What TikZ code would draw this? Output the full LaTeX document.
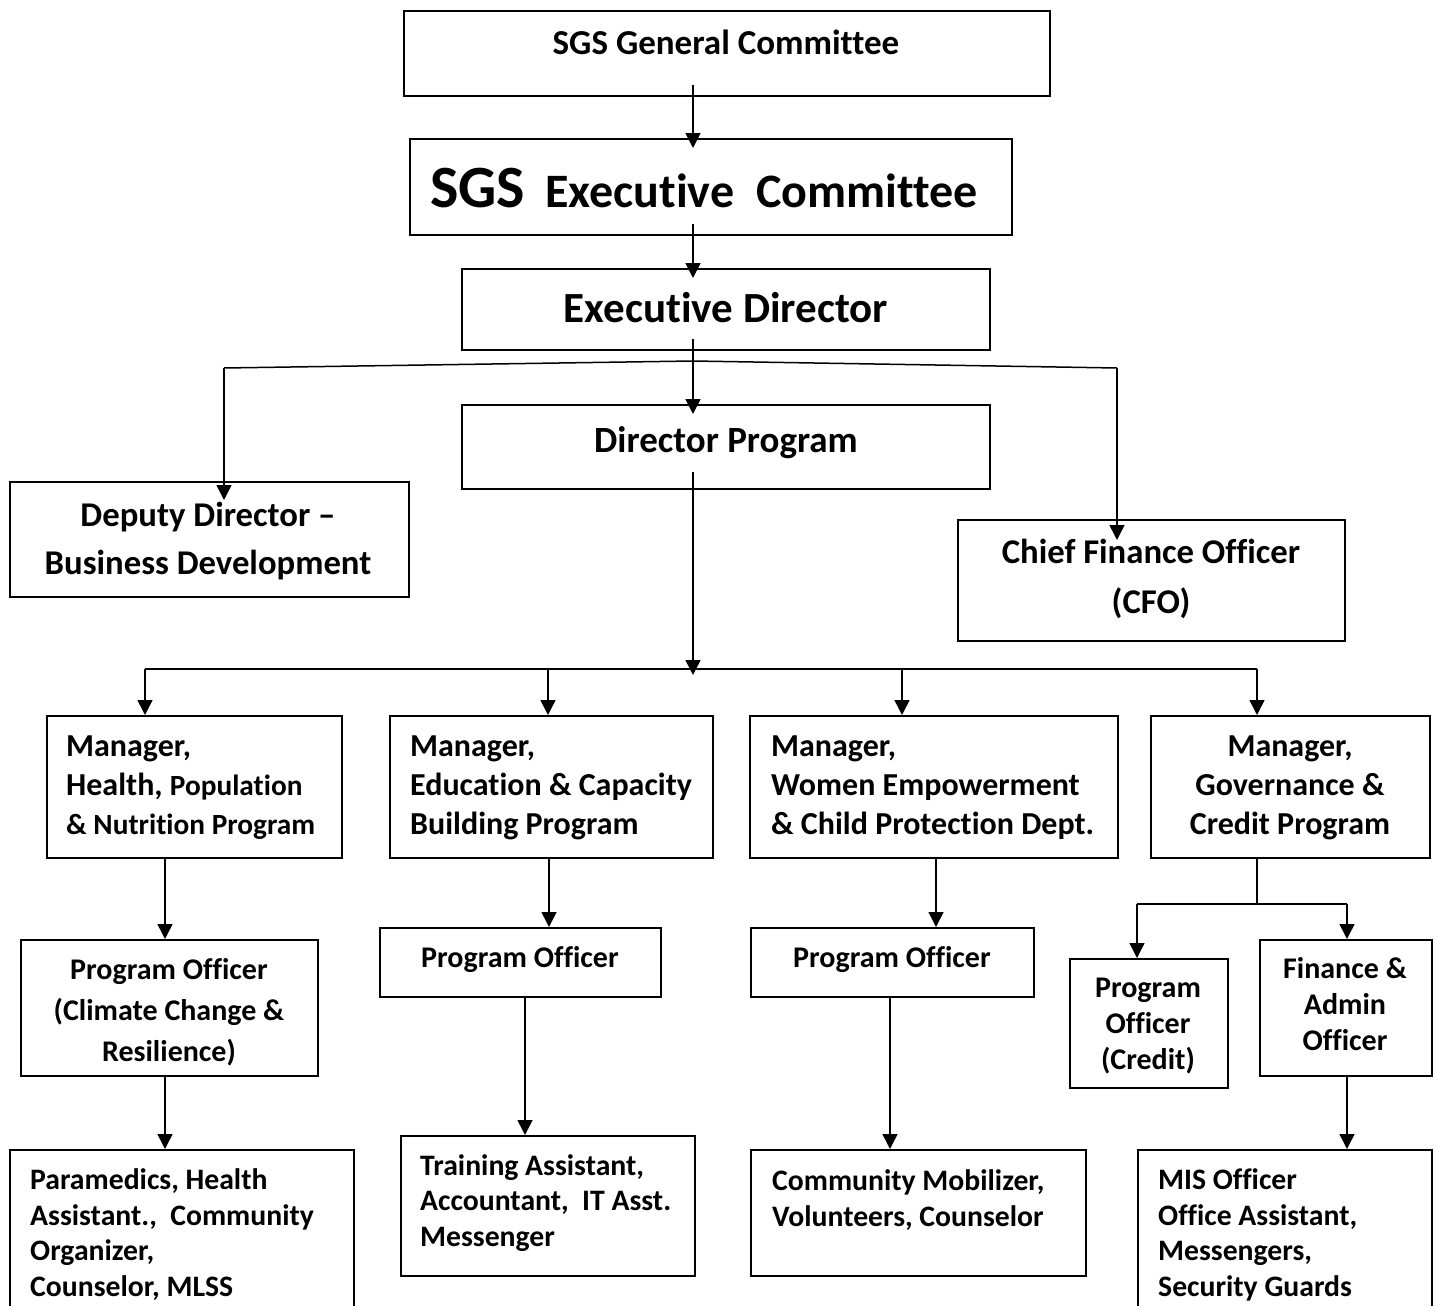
\documentclass[tikz,border=0pt]{standalone}
\usepackage{fontspec}
\setmainfont{Carlito}[Ligatures=NoCommon]
\usetikzlibrary{arrows.meta}

\begin{document}
\begin{tikzpicture}[x=1pt,y=-1pt]
	\tikzset{
		box/.style={draw, line width=2pt, anchor=north west, inner sep=0pt},
		line/.style={line width=1.5pt},
		arr/.style={line width=1.5pt, -{Triangle[length=15pt,width=15pt]}},
		txt/.style={inner sep=0pt, anchor=base, align=center},
		ltxt/.style={inner sep=0pt, anchor=base west, align=left}
	}
	\useasboundingbox (0,0) rectangle (1436,1306);
	\clip (0,0) rectangle (1436,1306);
	
	% top of the chart
	\node[box, minimum width=646, minimum height=85] (gc) at (403,10) {};
	\node[txt, font=\fontsize{35}{40}\selectfont\bfseries] (gct) at (726,55) {SGS General Committee};
	\node[box, minimum width=602, minimum height=96] (ec) at (409,138) {};
	\node[ltxt, font=\fontsize{48}{52}\selectfont\bfseries] (ect) at (430,207) {{\fontsize{60}{62}\selectfont SGS}\hspace{20pt}Executive\hspace{22pt}Committee};
	\node[box, minimum width=528, minimum height=81] (ed) at (461,268) {};
	\node[txt, font=\fontsize{43}{48}\selectfont\bfseries] (edt) at (726,322) {Executive Director};
	\node[box, minimum width=528, minimum height=84] (dp) at (461,404) {};
	\node[txt, font=\fontsize{37}{42}\selectfont\bfseries] (dpt) at (726,452) {Director Program};
	
	\node[box, minimum width=399, minimum height=115] (dd) at (9,481) {};
	\node[txt, font=\fontsize{34.7}{48}\selectfont\bfseries] (ddt) at (208,574) {Deputy Director --\\Business Development};
	\node[box, minimum width=387, minimum height=121] (cfo) at (957,519) {};
	\node[txt, font=\fontsize{34.7}{50}\selectfont\bfseries] (cfot) at (1151,613) {Chief Finance Officer\\(CFO)};
	
	\draw[arr, shorten >=-10pt] ([yshift=12pt]gc.south -| 693,0) -- (693,0 |- ec.north);
	\draw[arr, shorten >=-10pt] ([yshift=12pt]ec.south -| 693,0) -- (693,0 |- ed.north);
	\draw[arr, shorten >=-10pt] ([yshift=12pt]ed.south -| 693,0) -- (693,0 |- dp.north);
	\draw[line] (224,368) coordinate (ddbend) -- (693,361) -- (1117,368) coordinate (cfobend);
	\draw[arr, shorten >=-19pt] (ddbend) -- (ddbend |- dd.north);
	\draw[arr, shorten >=-21pt] (cfobend) -- (cfobend |- cfo.north);
	
	% managers
	\node[box, minimum width=295, minimum height=142] (m1) at (46,715) {};
	\node[ltxt, font=\fontsize{32}{39}\selectfont\bfseries] (m1t) at (66,834) {Manager,\\Health, {\fontsize{29.3}{39}\selectfont Population}\\{\fontsize{29.3}{39}\selectfont\&~Nutrition Program}};
	\node[box, minimum width=323, minimum height=142] (m2) at (389,715) {};
	\node[ltxt, font=\fontsize{32}{39}\selectfont\bfseries] (m2t) at (410,834) {Manager,\\Education \& Capacity\\Building Program};
	\node[box, minimum width=368, minimum height=142] (m3) at (749,715) {};
	\node[ltxt, font=\fontsize{32}{39}\selectfont\bfseries] (m3t) at (771,834) {Manager,\\Women Empowerment\\\& Child Protection Dept.};
	\node[box, minimum width=279, minimum height=142] (m4) at (1150,715) {};
	\node[txt, font=\fontsize{32}{39}\selectfont\bfseries] (m4t) at (1290,834) {Manager,\\Governance \&\\Credit Program};
	
	\draw[arr, shorten >=-6pt] ([yshift=18pt]dp.south -| 693,0) -- (693,669) coordinate (bus);
	\draw[line] (145,669) -- (1257,669);
	\foreach \m/\x in {m1/145, m2/548, m3/902, m4/1257}
		\draw[arr] (\x,669) -- (\x,0 |- \m.north);
	
	% program officers
	\node[box, minimum width=297, minimum height=136] (po1) at (20,939) {};
	\node[txt, font=\fontsize{30}{41}\selectfont\bfseries] (po1t) at (169,1061) {Program Officer\\(Climate Change \&\\Resilience)};
	\node[box, minimum width=281, minimum height=69] (po2) at (379,927) {};
	\node[txt, font=\fontsize{30}{41}\selectfont\bfseries] (po2t) at (520,967) {Program Officer};
	\node[box, minimum width=283, minimum height=69] (po3) at (750,927) {};
	\node[txt, font=\fontsize{30}{41}\selectfont\bfseries] (po3t) at (892,967) {Program Officer};
	\node[box, minimum width=158, minimum height=129] (po4) at (1069,958) {};
	\node[txt, font=\fontsize{30}{36}\selectfont\bfseries] (po4t) at (1148,1069) {Program\\Officer\\(Credit)};
	\node[box, minimum width=172, minimum height=136] (fa) at (1259,939) {};
	\node[txt, font=\fontsize{30}{36}\selectfont\bfseries] (fat) at (1345,1050) {Finance \&\\Admin\\Officer};
	
	\draw[arr] (165,0 |- m1.south) -- (165,0 |- po1.north);
	\draw[arr] (549,0 |- m2.south) -- (549,0 |- po2.north);
	\draw[arr] (936,0 |- m3.south) -- (936,0 |- po3.north);
	\draw[line] (1257,0 |- m4.south) -- (1257,904);
	\draw[line] (1137,904) -- (1347,904);
	\draw[arr] (1137,904) -- (1137,0 |- po4.north);
	\draw[arr] (1347,904) -- (1347,0 |- fa.north);
	
	% staff
	\node[box, minimum width=344, minimum height=181] (l1) at (9,1149) {};
	\node[ltxt, font=\fontsize{29.7}{35.5}\selectfont\bfseries] (l1t) at (30,1296) {Paramedics, Health\\Assistant.,\ \ Community\\Organizer,\\Counselor, MLSS};
	\node[box, minimum width=294, minimum height=140] (l2) at (400,1135) {};
	\node[ltxt, font=\fontsize{29.7}{35.5}\selectfont\bfseries] (l2t) at (420,1246) {Training Assistant,\\Accountant,\ \ IT Asst.\\Messenger};
	\node[box, minimum width=335, minimum height=126] (l3) at (750,1149) {};
	\node[ltxt, font=\fontsize{29.7}{35.5}\selectfont\bfseries] (l3t) at (772,1226) {Community Mobilizer,\\Volunteers, Counselor};
	\node[box, minimum width=294, minimum height=181] (l4) at (1137,1149) {};
	\node[ltxt, font=\fontsize{29.7}{35.5}\selectfont\bfseries] (l4t) at (1158,1296) {MIS Officer\\Office Assistant,\\Messengers,\\Security Guards};
	
	\draw[arr] (165,0 |- po1.south) -- (165,0 |- l1.north);
	\draw[arr] (525,0 |- po2.south) -- (525,0 |- l2.north);
	\draw[arr] (890,0 |- po3.south) -- (890,0 |- l3.north);
	\draw[arr] (1347,0 |- fa.south) -- (1347,0 |- l4.north);
\end{tikzpicture}
\end{document}
